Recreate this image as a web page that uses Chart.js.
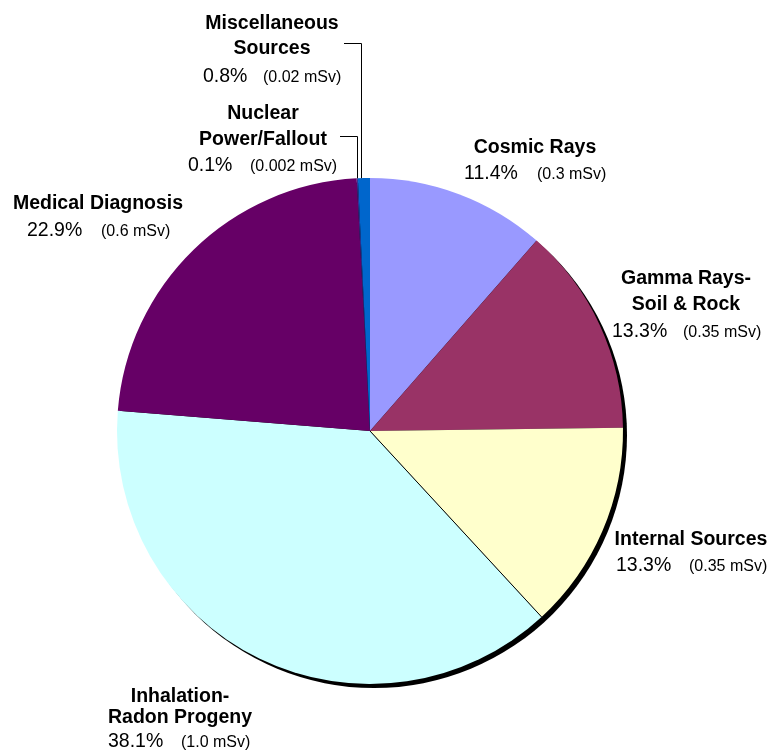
<!DOCTYPE html>
<html>
<head>
<meta charset="utf-8">
<script src="https://cdn.jsdelivr.net/npm/chart.js@4/dist/chart.umd.min.js"></script>
<style>
    html, body { margin: 0; padding: 0; background: #fff; }
    canvas { display: block; }
</style>
</head>
<body>
<canvas id="doseChart" width="773" height="751"></canvas>
<script>
const categories = ['Cosmic Rays', 'Gamma Rays-Soil & Rock', 'Internal Sources', 'Inhalation-Radon Progeny',
    'Medical Diagnosis', 'Nuclear Power/Fallout', 'Miscellaneous Sources'];
const nameLines = [['Cosmic Rays'], ['Gamma Rays-', 'Soil & Rock'], ['Internal Sources'], ['Inhalation-', 'Radon Progeny'],
    ['Medical Diagnosis'], ['Nuclear', 'Power/Fallout'], ['Miscellaneous', 'Sources']];
const doseMsv = [0.3, 0.35, 0.35, 1.0, 0.6, 0.002, 0.02];
const percentLabels = ['11.4%', '13.3%', '13.3%', '38.1%', '22.9%', '0.1%', '0.8%'];
const doseLabels = ['(0.3 mSv)', '(0.35 mSv)', '(0.35 mSv)', '(1.0 mSv)', '(0.6 mSv)', '(0.002 mSv)', '(0.02 mSv)'];
const sliceColors = ['#9999FF', '#993366', '#FFFFCC', '#CCFFFF', '#660066', '#333399', '#0066CC'];

// where each label block sits (name lines centred, values left-aligned)
const labelLayout = [
    { cx: 535, nameY: [153], pctX: 464, doseX: 537, valY: 179 },
    { cx: 686, nameY: [284, 310], pctX: 612, doseX: 683, valY: 337 },
    { cx: 691, nameY: [545], pctX: 616, doseX: 689, valY: 571 },
    { cx: 180, nameY: [702, 723], pctX: 108, doseX: 181, valY: 747 },
    { cx: 98, nameY: [209], pctX: 27, doseX: 101, valY: 236 },
    { cx: 263, nameY: [119, 145], pctX: 188, doseX: 250, valY: 171, leader: { x: 340, y: 136, frac: 0.5 } },
    { cx: 272, nameY: [29, 54], pctX: 203, doseX: 263, valY: 82, leader: { x: 344, y: 43, frac: 0.25 } }
];

const FONT = '"Liberation Sans", Arial, sans-serif';

const pieShadow = {
    id: 'pieShadow',
    beforeDatasetsDraw(chart) {
        const arc = chart.getDatasetMeta(0).data[0];
        if (!arc) return;
        const ctx = chart.ctx;
        ctx.save();
        ctx.fillStyle = '#000';
        ctx.beginPath();
        ctx.arc(arc.x + 4, arc.y + 4, arc.outerRadius, 0, Math.PI * 2);
        ctx.fill();
        ctx.restore();
    }
};

const pieLabels = {
    id: 'pieLabels',
    afterDatasetsDraw(chart) {
        const ctx = chart.ctx;
        const arcs = chart.getDatasetMeta(0).data;
        ctx.save();

        // dividing line between Internal Sources and Inhalation
        const a = arcs[2];
        ctx.strokeStyle = '#000';
        ctx.lineWidth = 1;
        ctx.beginPath();
        ctx.moveTo(a.x, a.y);
        ctx.lineTo(a.x + Math.cos(a.endAngle) * a.outerRadius, a.y + Math.sin(a.endAngle) * a.outerRadius);
        ctx.stroke();

        ctx.fillStyle = '#000';
        ctx.textBaseline = 'alphabetic';
        labelLayout.forEach((lay, i) => {
            ctx.font = 'bold 19.5px ' + FONT;
            ctx.textAlign = 'center';
            nameLines[i].forEach((line, j) => ctx.fillText(line, lay.cx, lay.nameY[j]));
            ctx.textAlign = 'left';
            ctx.font = '19.5px ' + FONT;
            ctx.fillText(percentLabels[i], lay.pctX, lay.valY);
            ctx.font = '16px ' + FONT;
            ctx.fillText(doseLabels[i], lay.doseX, lay.valY);

            if (lay.leader) {
                const arc = arcs[i];
                const ang = arc.startAngle + (arc.endAngle - arc.startAngle) * lay.leader.frac;
                const ex = Math.round(arc.x + Math.cos(ang) * arc.outerRadius) + 0.5;
                const ey = arc.y + Math.sin(ang) * arc.outerRadius;
                ctx.beginPath();
                ctx.moveTo(lay.leader.x, lay.leader.y + 0.5);
                ctx.lineTo(ex, lay.leader.y + 0.5);
                ctx.lineTo(ex, ey);
                ctx.stroke();
            }
        });
        ctx.restore();
    }
};

new Chart(document.getElementById('doseChart'), {
    type: 'pie',
    data: {
        labels: categories,
        datasets: [{
            data: doseMsv,
            backgroundColor: sliceColors,
            borderWidth: 0
        }]
    },
    options: {
        responsive: false,
        animation: false,
        devicePixelRatio: 1,
        layout: {
            padding: { left: 117, right: 150, top: 178, bottom: 67 }
        },
        plugins: {
            legend: { display: false },
            tooltip: { enabled: false }
        }
    },
    plugins: [pieShadow, pieLabels]
});
</script>
</body>
</html>
